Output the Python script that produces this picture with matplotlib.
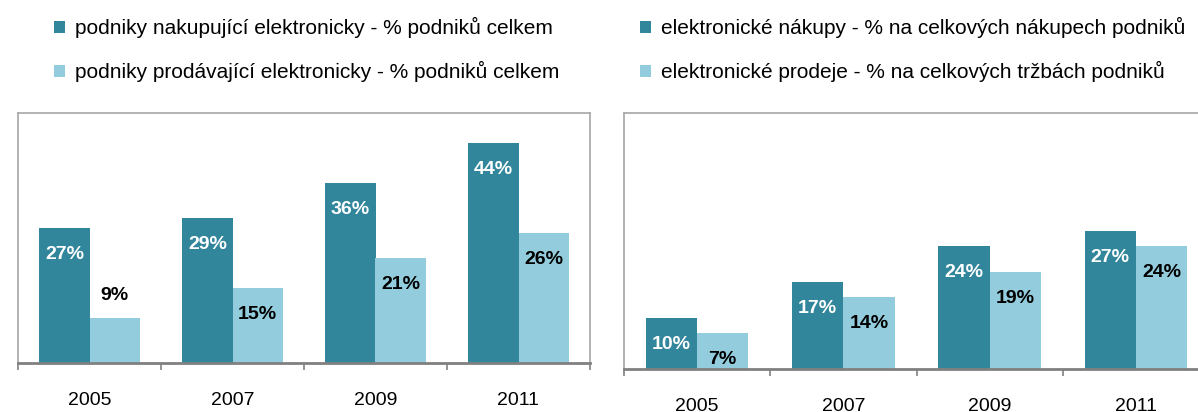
import numpy as np
import matplotlib
matplotlib.use("Agg")
import matplotlib.pyplot as plt

plt.rcParams['font.family'] = ['Liberation Sans', 'DejaVu Sans']

# data
roky = ['2005', '2007', '2009', '2011']
podniky_nakup = [27, 29, 36, 44]
podniky_prodej = [9, 15, 21, 26]
podil_nakupy = [10, 17, 24, 27]
podil_prodeje = [7, 14, 19, 24]

leg_levy = ['podniky nakupující elektronicky - % podniků celkem',
            'podniky prodávající elektronicky - % podniků celkem']
leg_pravy = ['elektronické nákupy - % na celkových nákupech podniků',
             'elektronické prodeje - % na celkových tržbách podniků']

tmava = '#31869B'
svetla = '#93CDDD'
seda = '#A6A6A6'

W, H = 1198, 412
fig = plt.figure(figsize=(W / 100, H / 100), dpi=100)

def px(x0, y_top, x1, y_bot):
    return [x0 / W, 1 - y_bot / H, (x1 - x0) / W, (y_bot - y_top) / H]

ax1 = fig.add_axes(px(18, 113, 590, 363))
ax2 = fig.add_axes(px(624, 113, 1209, 369))

def graf(ax, a, b, popisky, nad=()):
    x = np.arange(len(roky))
    w = 0.35
    ax.bar(x - w / 2, a, w, color=tmava, label=popisky[0])
    ax.bar(x + w / 2, b, w, color=svetla, label=popisky[1])
    for xi, v in zip(x, a):
        ax.annotate(f'{v}%', (xi - w / 2, v), xytext=(0, -19), textcoords='offset points',
                    ha='center', va='center', color='white', fontweight='bold', fontsize=14)
    for i, (xi, v) in enumerate(zip(x, b)):
        dy = 16.5 if i in nad else -19
        ax.annotate(f'{v}%', (xi + w / 2, v), xytext=(0, dy), textcoords='offset points',
                    ha='center', va='center', color='black', fontweight='bold', fontsize=14)
    ax.set_xlim(-0.5, len(roky) - 0.5)
    ax.set_ylim(0, 50)
    ax.set_yticks([])
    ax.set_xticks(x)
    ax.set_xticklabels(roky, fontsize=14)
    ax.set_xticks(np.arange(len(roky) + 1) - 0.5, minor=True)
    ax.tick_params(axis='x', which='major', length=0, pad=21)
    ax.tick_params(axis='x', which='minor', length=5, width=1.2, color='#808080', direction='out')
    for s in ['left', 'top', 'right']:
        ax.spines[s].set_color(seda)
        ax.spines[s].set_linewidth(1.2)
    ax.spines['bottom'].set_color('#808080')
    ax.spines['bottom'].set_linewidth(2)

graf(ax1, podniky_nakup, podniky_prodej, leg_levy, nad=(0,))
graf(ax2, podil_nakupy, podil_prodeje, leg_pravy)

for ax, x0 in ((ax1, 54), (ax2, 640)):
    ax.legend(loc='upper left', bbox_to_anchor=(x0 / W, 1 - 17 / H), bbox_transform=fig.transFigure,
              frameon=False, fontsize=15, handlelength=0.53, handleheight=0.53,
              handletextpad=0.48, labelspacing=1.1, borderpad=0, borderaxespad=0)

fig.savefig('out.png', dpi=100)
